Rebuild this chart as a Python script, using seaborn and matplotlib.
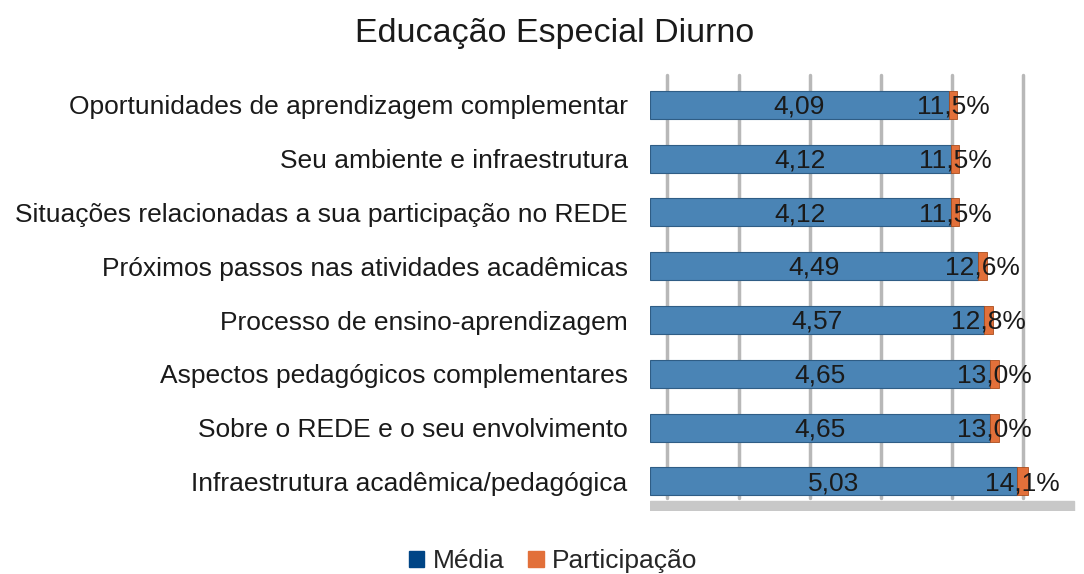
# 1. IMPORT LIBRARIES
import pandas as pd
import matplotlib.pyplot as plt
import seaborn as sns
from matplotlib.patches import Patch

# 2. DATA
categories = [
    'Oportunidades de aprendizagem complementar',
    'Seu ambiente e infraestrutura',
    'Situações relacionadas a sua participação no REDE',
    'Próximos passos nas atividades acadêmicas',
    'Processo de ensino-aprendizagem',
    'Aspectos pedagógicos complementares',
    'Sobre o REDE e o seu envolvimento',
    'Infraestrutura acadêmica/pedagógica',
]
media = [4.09, 4.12, 4.12, 4.49, 4.57, 4.65, 4.65, 5.03]
participacao = [11.5, 11.5, 11.5, 12.6, 12.8, 13.0, 13.0, 14.1]

df = pd.DataFrame({'Categoria': categories, 'Media': media, 'Participacao': participacao})
df['Part_frac'] = df['Participacao'] / 100

# 3. STYLE
sns.set_style('white')
plt.rcParams['font.family'] = ['Liberation Sans', 'DejaVu Sans']

blue_bar = '#4a84b5'
blue_leg = '#004586'
orange = '#e2703a'

fig = plt.figure(figsize=(10.84, 5.74), dpi=100)
ax = fig.add_axes([0.5996, 0.1098, 0.3976, 0.7637])

# 4. BARS
sns.barplot(data=df, y='Categoria', x='Media', orient='h', color=blue_bar,
            width=0.52, saturation=1, edgecolor='#2f5d85', linewidth=0.8, ax=ax)
ax.barh(df['Categoria'], df['Part_frac'], left=df['Media'], height=0.52,
        color=orange, edgecolor='#a94c1c', linewidth=0.6)

# labels on bars
for i, row in df.iterrows():
    ax.text(row['Media'] / 2, i + 0.03, f"{row['Media']:.2f}".replace('.', ','),
            ha='center', va='center', fontsize=19, color='#1a1a1a')
    ax.text(row['Media'] + row['Part_frac'] / 2, i + 0.03,
            f"{row['Participacao']:.1f}%".replace('.', ','),
            ha='center', va='center', fontsize=19, color='#1a1a1a')

# 5. AXES / GRID (mock 3D back wall + floor)
ax.set_xlim(0, 5.9)
ax.set_ylim(7.55, -0.6)
for k in range(0, 6):
    ax.axvline(0.24 + k * 0.972, ymin=0.03, ymax=0.995, color='#b8b8b8', lw=2.5, zorder=0)
ax.axhspan(7.36, 7.55, xmin=0, xmax=0.985, color='#c8c8c8', zorder=0)
ax.set_xticks([])
ax.tick_params(axis='y', length=0, labelsize=19, labelcolor='#1a1a1a', pad=16)
ax.set_xlabel('')
ax.set_ylabel('')
for s in ax.spines.values():
    s.set_visible(False)

fig.suptitle('Educação Especial Diurno', x=0.512, y=0.968, fontsize=24.5, color='#1a1a1a')

# legend
handles = [Patch(color=blue_leg, label='Média'), Patch(color=orange, label='Participação')]
fig.legend(handles=handles, loc='lower center', bbox_to_anchor=(0.51, -0.04), ncol=2,
           frameon=False, fontsize=19, handlelength=0.6, handleheight=0.6,
           handletextpad=0.3, columnspacing=0.9)

plt.savefig('out.png', dpi=100)
